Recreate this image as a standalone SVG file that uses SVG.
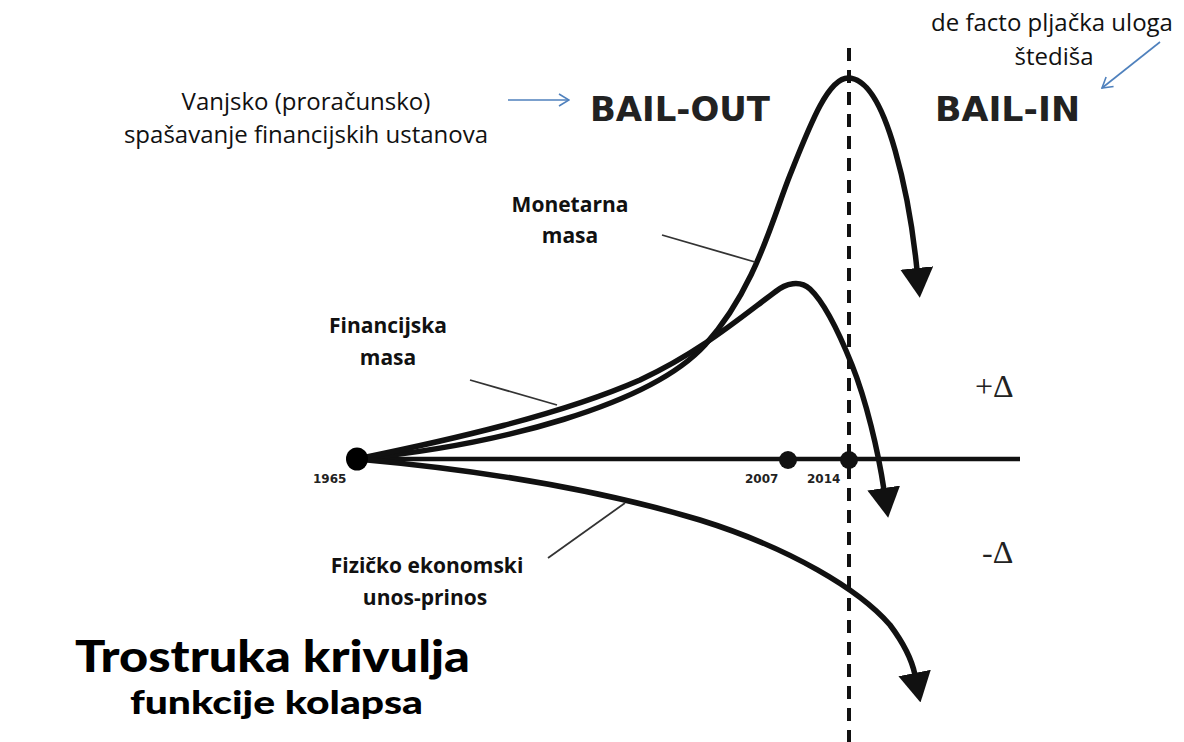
<svg xmlns="http://www.w3.org/2000/svg" width="1184" height="742" viewBox="0 0 1184 742">
  <style>
    .curve { fill: none; stroke: #111; stroke-width: 5.5; stroke-linecap: round; stroke-linejoin: round; }
    .axis { stroke: #111; stroke-width: 4.5; fill: none; }
    .dash { stroke: #111; stroke-width: 4; stroke-dasharray: 13 9; fill: none; }
    .leader { stroke: #333; stroke-width: 1.8; fill: none; }
    .blue { stroke: #4f81bd; stroke-width: 1.6; fill: none; }
    .cap { font-family: "Open Sans", "Liberation Sans", sans-serif; font-size: 24px; fill: #111; text-anchor: middle; }
    .lbl { font-family: "Open Sans", "Liberation Sans", sans-serif; font-size: 21px; font-weight: 700; fill: #111; text-anchor: middle; }
    .bail { font-family: "DejaVu Sans", "Liberation Sans", sans-serif; font-size: 33px; font-weight: 700; fill: #222; }
    .year { font-family: "DejaVu Sans", "Liberation Sans", sans-serif; font-size: 12px; font-weight: 700; fill: #222; }
    .delta { font-family: "Liberation Serif", "DejaVu Serif", serif; font-size: 32px; fill: #222; }
    .title { font-family: "Lato", "DejaVu Sans", sans-serif; font-weight: 900; fill: #000; }
  </style>
  <defs>
    <marker id="tri" viewBox="0 0 30 33" refX="2" refY="16.5" markerWidth="30" markerHeight="33" markerUnits="userSpaceOnUse" orient="auto">
      <path d="M0,0 L30,16.5 L0,33 Z" fill="#111"/>
    </marker>
    <marker id="open" viewBox="0 0 12 14" refX="11" refY="7" markerWidth="12" markerHeight="14" markerUnits="userSpaceOnUse" orient="auto">
      <path d="M1,1 L11,7 L1,13" fill="none" stroke="#4f81bd" stroke-width="1.6"/>
    </marker>
  </defs>

  <g id="axis">
    <line class="axis" x1="357" y1="459" x2="1020" y2="459"/>
    <line class="dash" x1="849" y1="48" x2="849" y2="742"/>
  </g>

  <g id="connectors">
    <path id="monetarna-curve" class="curve" marker-end="url(#tri)" d="M357,459 C500,445 650,405 705,345 C755,290 772,220 790,175 C810,125 828,78 848,78 C870,78 885,115 895,150 C905,185 913,230 917,270"/>
    <path id="financijska-curve" class="curve" marker-end="url(#tri)" d="M357,459 C450,440 560,415 640,380 C700,352 740,318 775,292 C786,283 800,280 810,289 C825,303 840,335 852,365 C866,400 878,450 884,490"/>
    <path id="fizicko-curve" class="curve" marker-end="url(#tri)" d="M357,459 C480,470 600,490 700,520 C790,548 860,590 890,625 C905,645 912,660 915,675"/>
    <line class="leader" x1="662" y1="235" x2="755" y2="262"/>
    <line class="leader" x1="470" y1="380" x2="557" y2="405"/>
    <line class="leader" x1="625" y1="503" x2="548" y2="558"/>
    <line class="blue" x1="508" y1="100" x2="569" y2="100" marker-end="url(#open)"/>
    <line class="blue" x1="1160" y1="42" x2="1102" y2="88" marker-end="url(#open)"/>
  </g>

  <g id="points">
    <ellipse cx="357" cy="459" rx="11" ry="11.5" fill="#000"/>
    <circle cx="788" cy="460" r="9" fill="#111"/>
    <circle cx="849" cy="460" r="9" fill="#111"/>
    <text class="year" x="313" y="483">1965</text>
    <text class="year" x="745" y="483">2007</text>
    <text class="year" x="807" y="483">2014</text>
  </g>

  <g id="bail-out">
    <text class="cap" x="306" y="110">Vanjsko (proračunsko)</text>
    <text class="cap" x="306" y="143">spašavanje financijskih ustanova</text>
    <text class="bail" x="590" y="121" textLength="180" lengthAdjust="spacingAndGlyphs">BAIL-OUT</text>
  </g>

  <g id="bail-in">
    <text class="cap" x="1052" y="31">de facto pljačka uloga</text>
    <text class="cap" x="1054" y="65">štediša</text>
    <text class="bail" x="935" y="121" textLength="145" lengthAdjust="spacingAndGlyphs">BAIL-IN</text>
  </g>

  <g id="monetarna">
    <text class="lbl" x="570" y="212">Monetarna</text>
    <text class="lbl" x="570" y="243">masa</text>
  </g>

  <g id="financijska">
    <text class="lbl" x="388" y="333">Financijska</text>
    <text class="lbl" x="388" y="365">masa</text>
  </g>

  <g id="fizicko">
    <text class="lbl" x="427" y="573">Fizičko ekonomski</text>
    <text class="lbl" x="425" y="605">unos-prinos</text>
  </g>

  <g id="deltas">
    <text class="delta" x="975" y="397">+Δ</text>
    <text class="delta" x="982" y="563">-Δ</text>
  </g>

  <g id="title">
    <text class="title" x="75" y="672" font-size="43" textLength="395" lengthAdjust="spacingAndGlyphs">Trostruka krivulja</text>
    <text class="title" x="130" y="714" font-size="33" textLength="293" lengthAdjust="spacingAndGlyphs">funkcije kolapsa</text>
  </g>
</svg>
